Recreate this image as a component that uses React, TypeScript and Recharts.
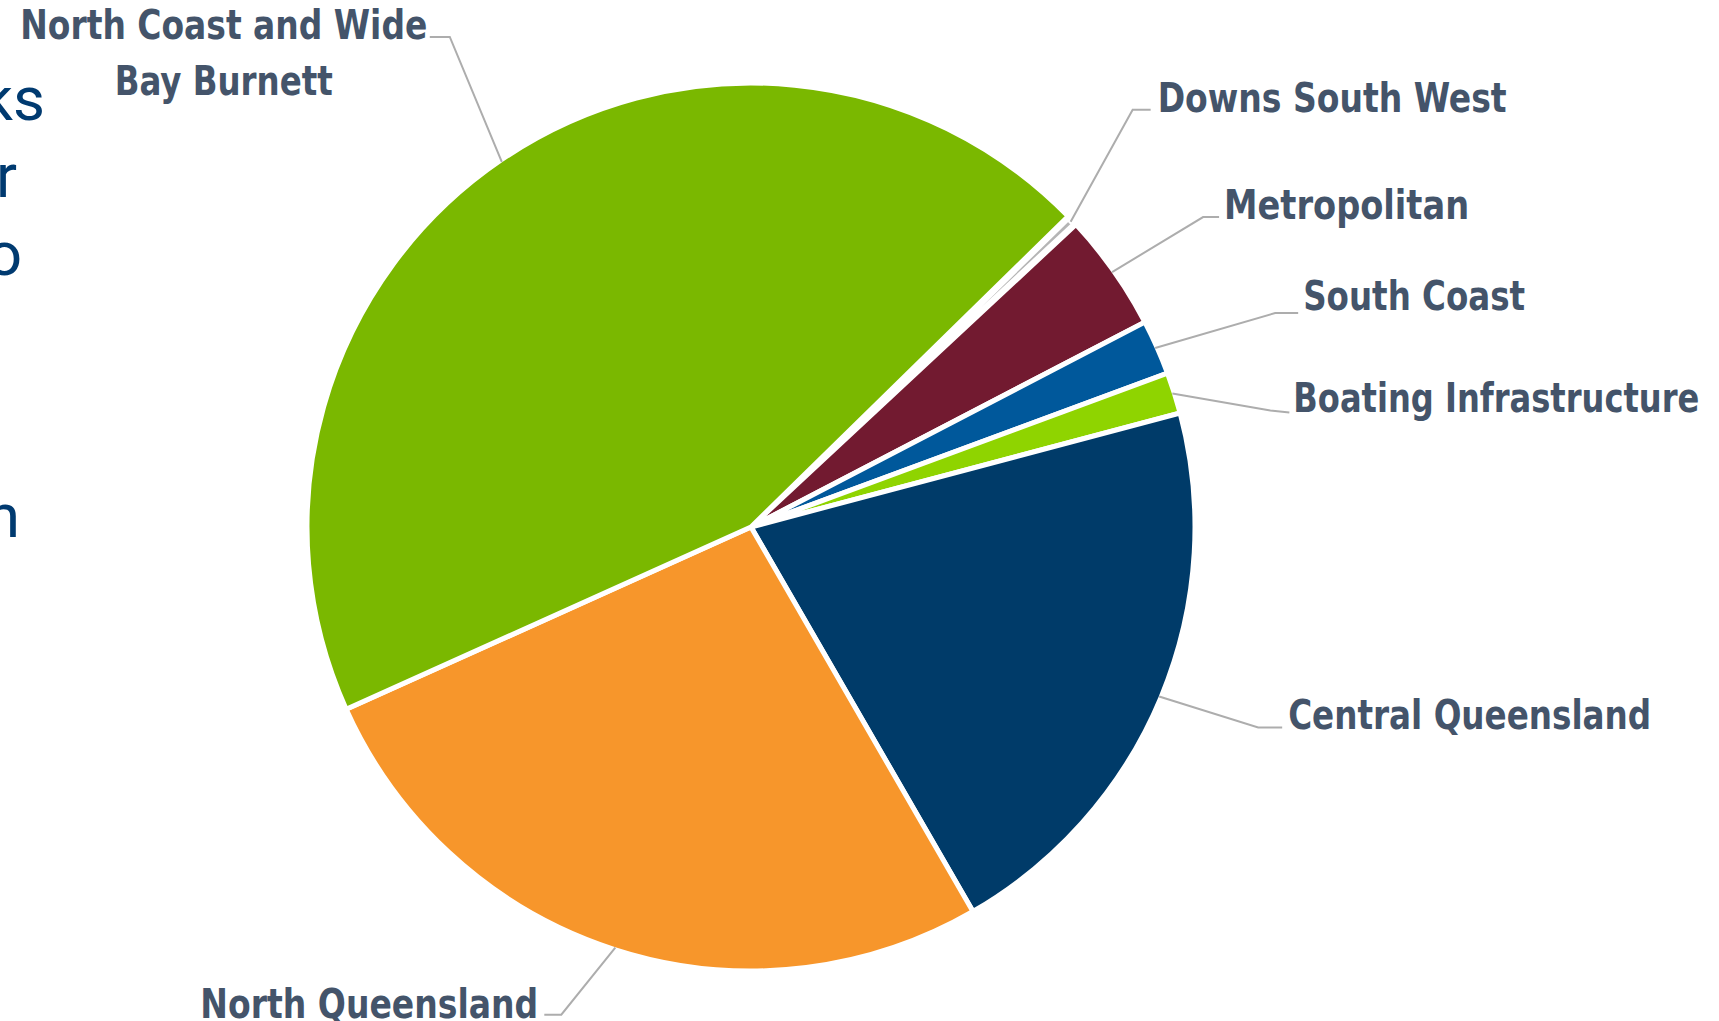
import { PieChart, Pie, Cell } from "recharts";

// share of total, by region
const regions = [
  "Downs South West",
  "Metropolitan",
  "South Coast",
  "Boating Infrastructure",
  "Central Queensland",
  "North Queensland",
  "North Coast and Wide Bay Burnett",
];
const shares = [0.4, 4.3, 2.0, 1.5, 20.8, 26.6, 44.4];
const sliceColors = ["#b5b5b5", "#721a30", "#00589b", "#8fd400", "#003b69", "#f7962b", "#7ab800"];
const labelText = [
  ["Downs South West"],
  ["Metropolitan"],
  ["South Coast"],
  ["Boating Infrastructure"],
  ["Central Queensland"],
  ["North Queensland"],
  ["North Coast and Wide", "Bay Burnett"],
];

// bits of slide text cut off at the left edge
const sideText = ["ks", "r", "o", "n"];

const data = regions.map((name, i) => ({ name, value: shares[i] }));

// leader line + label placement, offsets from the slice's edge point
const labelLayout = [
  { knee: [62, -112], tip: [80, -112], text: [87, -110], anchor: "start", widths: [349] },
  { knee: [91, -55], tip: [107, -55], text: [112, -53], anchor: "start", widths: [245] },
  { knee: [120, -35], tip: [143, -35], text: [148, -38], anchor: "start", widths: [222] },
  { knee: [98, 17], tip: [117, 19], text: [121, 19], anchor: "start", widths: [406] },
  { knee: [99, 31], tip: [123, 31], text: [129, 32], anchor: "start", widths: [363] },
  { knee: [-54, 67], tip: [-71, 67], text: [-77, 70], anchor: "end", widths: [338] },
  { knee: [-52, -125], tip: [-72, -125], text: [-278, -123], anchor: "middle", widths: [407, 218] },
];

const sideLayout = [
  { x: 45, y: 120 },
  { x: 17, y: 197 },
  { x: 22, y: 275 },
  { x: 20, y: 537 },
];

const RAD = Math.PI / 180;
const LABEL_FONT = "'Liberation Sans Narrow', 'DejaVu Sans Condensed', 'Liberation Sans', sans-serif";

// eslint-disable-next-line @typescript-eslint/no-explicit-any
const renderLabel = (props: any) => {
  const { cx, cy, midAngle, outerRadius, index } = props;
  const r = outerRadius - 2;
  const ax = cx + r * Math.cos(-midAngle * RAD);
  const ay = cy + r * Math.sin(-midAngle * RAD);
  const l = labelLayout[index];
  const pts = [
    [ax, ay],
    [ax + l.knee[0], ay + l.knee[1]],
    [ax + l.tip[0], ay + l.tip[1]],
  ]
    .map((p) => p.join(","))
    .join(" ");
  return (
    <g key={`lbl-${index}`}>
      <polyline points={pts} fill="none" stroke="#adadad" strokeWidth={2} />
      {labelText[index].map((line, i) => (
        <text
          key={i}
          x={ax + l.text[0]}
          y={ay + l.text[1] + i * 56}
          textAnchor={l.anchor}
          fill="#44546a"
          fontFamily={LABEL_FONT}
          fontWeight="bold"
          fontSize={40}
          textLength={l.widths[i]}
          lengthAdjust="spacingAndGlyphs"
        >
          {line}
        </text>
      ))}
    </g>
  );
};

export default function App() {
  return (
    <div
      style={{
        position: "fixed",
        left: 0,
        top: 0,
        width: 1719,
        height: 1021,
        overflow: "hidden",
        background: "#fff",
      }}
    >
      <svg
        width={1719}
        height={1021}
        style={{ position: "absolute", left: 0, top: 0, pointerEvents: "none" }}
      >
        {sideText.map((t, i) => (
          <text
            key={t}
            x={sideLayout[i].x}
            y={sideLayout[i].y}
            textAnchor="end"
            fill="#003a70"
            fontFamily="Roboto, 'Noto Sans', sans-serif"
            fontSize={62}
          >
            {t}
          </text>
        ))}
      </svg>
      <PieChart width={1719} height={1021} margin={{ top: 0, right: 0, bottom: 0, left: 0 }}>
        <Pie
          data={data}
          dataKey="value"
          nameKey="name"
          cx={751}
          cy={527}
          outerRadius={444}
          startAngle={44.4}
          endAngle={-315.6}
          stroke="#ffffff"
          strokeWidth={5}
          label={renderLabel}
          labelLine={false}
          isAnimationActive={false}
        >
          {data.map((d, i) => (
            <Cell key={d.name} fill={sliceColors[i]} strokeWidth={i === 0 ? 8 : 5} />
          ))}
        </Pie>
      </PieChart>
    </div>
  );
}
